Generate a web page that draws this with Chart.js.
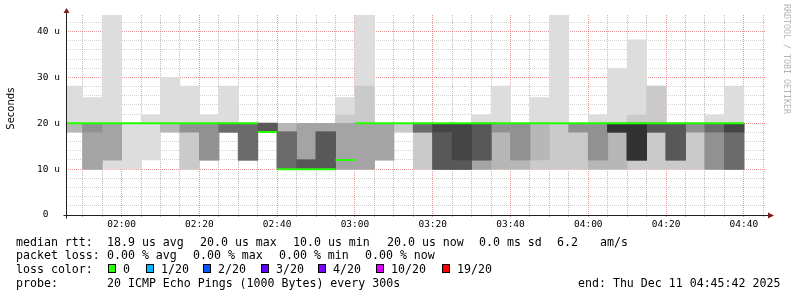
<!DOCTYPE html>
<html>
<head>
<meta charset="utf-8">
<title>SmokePing</title>
<script src="https://cdn.jsdelivr.net/npm/chart.js@4.4.1/dist/chart.umd.min.js"></script>
<style>
  html, body { margin: 0; padding: 0; background: #fff; }
  #wrap { position: relative; width: 797px; height: 297px; overflow: hidden; }
  #chart { position: absolute; left: 0; top: 0; }
  .txt { position: absolute; font-family: 'DejaVu Sans Mono', monospace; font-size: 11.6px; line-height: 14px; white-space: pre; color: #000; }
  .box { position: absolute; width: 8px; height: 9px; box-sizing: border-box; border: 1px solid #000; }
  #credit { position: absolute; left: 782px; top: 4px; writing-mode: vertical-rl; font-family: 'DejaVu Sans Mono', monospace; font-size: 8.3px; line-height: 10px; color: #b4b4b4; white-space: pre; }
</style>
</head>
<body>
<div id="wrap">
  <canvas id="chart" width="797" height="297"></canvas>
  <div id="legend"></div>
  <div id="credit">RRDTOOL / TOBI OETIKER</div>
</div>
<script>
// start of each 5 minute slot
const slots = [
    '01:45', '01:50', '01:55', '02:00', '02:05', '02:10', '02:15', '02:20', '02:25', '02:30',
    '02:35', '02:40', '02:45', '02:50', '02:55', '03:00', '03:05', '03:10', '03:15', '03:20',
    '03:25', '03:30', '03:35', '03:40', '03:45', '03:50', '03:55', '04:00', '04:05', '04:10',
    '04:15', '04:20', '04:25', '04:30', '04:35'
];

// the 20 sorted pings of every slot, as [rtt in us, how many]
const pingRuns = [
    [[18.1, 3], [20.0, 16], [28.1, 1]],
    [[10.0, 4], [18.1, 1], [20.0, 14], [25.6, 1]],
    [[10.0, 1], [12.0, 3], [20.0, 15], [43.6, 1]],
    [[10.0, 1], [20.0, 19]],
    [[12.0, 1], [20.0, 18], [21.8, 1]],
    [[18.1, 3], [20.0, 16], [30.0, 1]],
    [[10.0, 2], [18.1, 3], [20.0, 14], [28.1, 1]],
    [[12.0, 5], [20.0, 14], [21.8, 1]],
    [[18.1, 7], [20.0, 12], [28.1, 1]],
    [[12.0, 7], [20.0, 13]],
    [[18.1, 12], [20.0, 8]],
    [[10.0, 13], [18.1, 4], [20.0, 3]],
    [[10.0, 12], [12.0, 4], [20.0, 4]],
    [[10.0, 12], [18.1, 4], [20.0, 4]],
    [[10.0, 4], [12.0, 12], [20.0, 2], [21.8, 1], [25.6, 1]],
    [[10.0, 4], [20.0, 14], [28.1, 1], [43.6, 1]],
    [[12.0, 4], [20.0, 16]],
    [[18.1, 2], [20.0, 18]],
    [[10.0, 2], [18.1, 5], [20.0, 13]],
    [[10.0, 8], [18.1, 1], [20.0, 11]],
    [[10.0, 8], [12.0, 1], [20.0, 11]],
    [[10.0, 4], [12.0, 4], [20.0, 11], [21.8, 1]],
    [[10.0, 3], [18.1, 2], [20.0, 14], [28.1, 1]],
    [[10.0, 3], [12.0, 2], [20.0, 15]],
    [[10.0, 2], [12.0, 1], [20.0, 16], [25.6, 1]],
    [[10.0, 2], [20.0, 17], [43.6, 1]],
    [[10.0, 2], [18.1, 3], [20.0, 15]],
    [[10.0, 3], [12.0, 2], [20.0, 14], [21.8, 1]],
    [[10.0, 3], [18.1, 7], [20.0, 9], [31.9, 1]],
    [[10.0, 2], [12.0, 8], [20.0, 8], [21.8, 1], [38.2, 1]],
    [[10.0, 2], [18.1, 6], [20.0, 10], [28.1, 2]],
    [[10.0, 2], [12.0, 6], [20.0, 12]],
    [[10.0, 2], [18.1, 3], [20.0, 15]],
    [[10.0, 5], [18.1, 2], [20.0, 12], [21.8, 1]],
    [[10.0, 7], [18.1, 2], [20.0, 10], [28.1, 1]]
];

// median rtt (us), 0 packets lost in every slot
const medianRtt = [
    20.0, 20.0, 20.0, 20.0, 20.0, 20.0, 20.0, 20.0, 20.0, 20.0,
    18.1, 10.0, 10.0, 10.0, 12.0, 20.0, 20.0, 20.0, 20.0, 20.0,
    20.0, 20.0, 20.0, 20.0, 20.0, 20.0, 20.0, 20.0, 20.0, 20.0,
    20.0, 20.0, 20.0, 20.0, 20.0
];

const xTickLabels = ['02:00', '02:20', '02:40', '03:00', '03:20', '03:40', '04:00', '04:20', '04:40'];
const yTickLabels = ['0', '10 u', '20 u', '30 u', '40 u'];
const lossLabels = ['0', '1/20', '2/20', '3/20', '4/20', '10/20', '19/20'];
const endTime = '04:45:42';

// colours / layout
const lossColors = ['#26ff00', '#00b8ff', '#0059ff', '#5e00ff', '#7e00ff', '#dd00ff', '#ff0000'];
const XGRID = 'rgba(143,143,143,0.6)';
const YGRID = 'rgba(143,143,143,0.4)';
const MGRID = 'rgba(222,79,79,0.6)';
const FONT = "'DejaVu Sans Mono', monospace";

function toMin(s) {
    const p = s.split(':').map(Number);
    return p[0] * 60 + p[1] + (p[2] || 0) / 60;
}

const xMax = toMin(endTime);
const xMin = xMax - 180;
const step = 5;
const pings = pingRuns.map(runs => runs.flatMap(([v, n]) => Array(n).fill(v)));
const yMax = Math.max(...pings.flat());

// smoke: band i runs from ping i to ping (21-i), darker towards the middle
const datasets = [];
for (let i = 1; i <= 10; i++) {
    const shade = Math.floor(190 / 10 * (10 - i)) + 50;
    const data = [];
    pings.forEach((p, k) => {
        const lo = p[i - 1], hi = p[20 - i];
        if (hi > lo) data.push({ x: toMin(slots[k]) + step / 2, y: [lo, hi] });
    });
    datasets.push({
        type: 'bar',
        data: data,
        backgroundColor: `rgb(${shade},${shade},${shade})`,
        borderWidth: 0,
        grouped: false,
        barPercentage: 1,
        categoryPercentage: 1,
        order: 11 - i
    });
}

// median as separate 5 minute pieces
const medianData = [];
medianRtt.forEach((m, k) => {
    const t = toMin(slots[k]);
    medianData.push({ x: t, y: m }, { x: t + step, y: m }, { x: t + step, y: null });
});
datasets.push({
    type: 'line',
    data: medianData,
    borderColor: lossColors[0],
    borderWidth: 2,
    pointRadius: 0,
    spanGaps: false,
    order: 0
});

const xTicks = [];
for (let v = Math.ceil(xMin / step) * step; v <= xMax; v += step) xTicks.push(v);
const yTicks = [];
for (let v = 0; v <= yMax; v += 2) yTicks.push(v);

function xLabel(v) {
    const l = xTickLabels.find(s => toMin(s) === v);
    return l || '';
}
function yLabel(v) {
    const l = yTickLabels.find(s => parseFloat(s) === v);
    if (!l) return '';
    return l.indexOf(' ') < 0 ? l + '  ' : l;
}

const axisArrows = {
    id: 'axisArrows',
    afterDraw(chart) {
        const { ctx, chartArea: a } = chart;
        const x0 = Math.round(a.left) + 0.5;
        const y0 = Math.round(a.bottom) + 0.5;
        ctx.save();
        ctx.strokeStyle = '#1f1f1f';
        ctx.lineWidth = 1;
        ctx.beginPath();
        ctx.moveTo(x0 - 3, y0);
        ctx.lineTo(a.right + 2, y0);
        ctx.moveTo(x0, y0 + 3);
        ctx.lineTo(x0, a.top - 2);
        ctx.stroke();
        ctx.fillStyle = '#801f1f';
        ctx.beginPath();
        ctx.moveTo(a.right + 2, y0 - 3);
        ctx.lineTo(a.right + 8, y0);
        ctx.lineTo(a.right + 2, y0 + 3);
        ctx.closePath();
        ctx.moveTo(x0 - 3, a.top - 2);
        ctx.lineTo(x0, a.top - 7);
        ctx.lineTo(x0 + 3, a.top - 2);
        ctx.closePath();
        ctx.fill();
        ctx.restore();
    }
};

new Chart(document.getElementById('chart'), {
    type: 'bar',
    data: { datasets: datasets },
    options: {
        responsive: false,
        animation: false,
        events: [],
        layout: { padding: { left: 0, top: 15, right: 31, bottom: 0 } },
        plugins: {
            legend: { display: false },
            tooltip: { enabled: false }
        },
        scales: {
            x: {
                type: 'linear',
                min: xMin,
                max: xMax,
                offset: false,
                z: 1,
                afterBuildTicks: s => { s.ticks = xTicks.map(v => ({ value: v })); },
                afterFit: s => { s.height = 82; },
                grid: {
                    offset: false,
                    color: c => (c.tick && c.tick.value % 20 === 0) ? MGRID : XGRID,
                    tickColor: c => (c.tick && c.tick.value % 20 === 0) ? MGRID : XGRID,
                    tickLength: 2,
                    tickBorderDash: []
                },
                border: { display: false, dash: [1, 1] },
                ticks: {
                    autoSkip: false,
                    maxRotation: 0,
                    padding: 2,
                    color: '#000',
                    font: { family: FONT, size: 9.5 },
                    callback: v => xLabel(v)
                }
            },
            y: {
                type: 'linear',
                min: 0,
                max: yMax,
                z: 1,
                afterBuildTicks: s => { s.ticks = yTicks.map(v => ({ value: v })); },
                afterFit: s => { s.width = 66; },
                grid: {
                    color: c => (c.tick && c.tick.value % 10 === 0) ? MGRID : YGRID,
                    drawTicks: false
                },
                border: { display: false, dash: [1, 1] },
                ticks: {
                    autoSkip: false,
                    padding: 6,
                    color: '#000',
                    font: { family: FONT, size: 9.5 },
                    callback: v => yLabel(v)
                },
                title: {
                    display: true,
                    text: '    Seconds',
                    color: '#000',
                    font: { family: "'DejaVu Sans', sans-serif", size: 10 },
                    padding: { top: 5, bottom: 0 }
                }
            }
        }
    },
    plugins: [axisArrows]
});

// legend under the graph
const legend = document.getElementById('legend');
function addText(x, top, text) {
    const d = document.createElement('div');
    d.className = 'txt';
    d.style.left = x + 'px';
    d.style.top = top + 'px';
    d.textContent = text;
    legend.appendChild(d);
}
const rows = [234.7, 248.3, 262.3, 276.3];
addText(16, rows[0], 'median rtt:');
addText(107, rows[0], '18.9 us avg');
addText(200, rows[0], '20.0 us max');
addText(293, rows[0], '10.0 us min');
addText(387, rows[0], '20.0 us now');
addText(479, rows[0], '0.0 ms sd');
addText(557, rows[0], '6.2');
addText(600, rows[0], 'am/s');

addText(16, rows[1], 'packet loss:');
addText(107, rows[1], '0.00 % avg');
addText(193, rows[1], '0.00 % max');
addText(279, rows[1], '0.00 % min');
addText(365, rows[1], '0.00 % now');

addText(16, rows[2], 'loss color:');
const boxX = [108, 146, 203, 261, 318, 376, 442];
lossLabels.forEach((l, i) => {
    const b = document.createElement('div');
    b.className = 'box';
    b.style.left = boxX[i] + 'px';
    b.style.top = '264px';
    b.style.background = lossColors[i];
    legend.appendChild(b);
    addText(boxX[i] + 15, rows[2], l);
});

addText(16, rows[3], 'probe:');
addText(107, rows[3], '20 ICMP Echo Pings (1000 Bytes) every 300s');
addText(578, rows[3], 'end: Thu Dec 11 04:45:42 2025');
</script>
</body>
</html>
